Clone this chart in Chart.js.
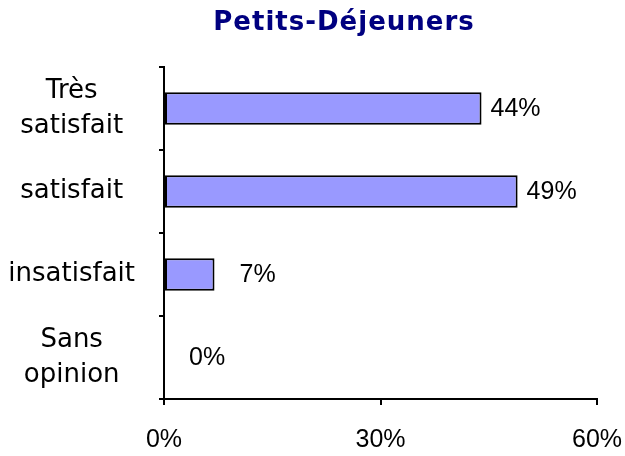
<!DOCTYPE html>
<html>
<head>
<meta charset="utf-8">
<script src="https://cdn.jsdelivr.net/npm/chart.js@4"></script>
<style>
  html, body { margin:0; padding:0; background:#fff; }
  #wrap { width:625px; height:456px; }
</style>
</head>
<body>
<div id="wrap"><canvas id="c" width="625" height="456"></canvas></div>
<script>
// Données
const titre      = 'Petits-Déjeuners';
const categories = [['Très', 'satisfait'], 'satisfait', 'insatisfait', ['Sans', 'opinion']];
const valeurs    = [44, 49, 7, 0];
const ticksX     = [0, 30, 60];

// titre dessiné à la main (centré comme dans l'original)
const titrePlugin = {
  id: 'titre',
  afterDraw(chart) {
    const ctx = chart.ctx;
    ctx.save();
    ctx.font = 'bold 26px "DejaVu Sans"';
    ctx.fillStyle = '#000080';
    ctx.letterSpacing = '1px';
    ctx.textAlign = 'center';
    ctx.textBaseline = 'alphabetic';
    ctx.fillText(titre, 344, 30);
    ctx.restore();
  }
};

// étiquettes de valeur à droite des barres
const etiquettes = {
  id: 'etiquettes',
  afterDatasetsDraw(chart) {
    const ctx  = chart.ctx;
    const meta = chart.getDatasetMeta(0);
    ctx.save();
    ctx.font = '25px "Liberation Sans"';
    ctx.fillStyle = '#000';
    ctx.textAlign = 'left';
    ctx.textBaseline = 'middle';
    meta.data.forEach((bar, i) => {
      const v = valeurs[i];
      const dx = v < 10 ? 25 : 9;
      ctx.fillText(v + '%', bar.x + dx, bar.y + 1);
    });
    ctx.restore();
  }
};

new Chart(document.getElementById('c'), {
  type: 'bar',
  data: {
    labels: categories,
    datasets: [{
      data: valeurs,
      backgroundColor: '#9999FF',
      borderColor: '#000',
      borderWidth: 2,
      borderSkipped: false,
      barPercentage: 0.39,
      categoryPercentage: 1,
    }]
  },
  options: {
    indexAxis: 'y',
    responsive: false,
    animation: false,
    layout: { padding: { top: 67, right: 28, left: 0, bottom: 0 } },
    plugins: {
      legend: { display: false },
      title:  { display: false },
      tooltip:{ enabled: false },
    },
    scales: {
      x: {
        min: 0, max: 60,
        afterBuildTicks: s => { s.ticks = ticksX.map(v => ({ value: v })); },
        afterFit: s => { s.height = 57; s.paddingLeft = 0; s.paddingRight = 0; },
        grid: { drawOnChartArea: false, drawTicks: true, tickLength: 6, color: '#000', lineWidth: 2 },
        border: { display: true, color: '#000', width: 2 },
        ticks: {
          callback: v => v + '%',
          color: '#000',
          font: { family: 'Liberation Sans', size: 25 },
          padding: 20,
          maxRotation: 0,
        }
      },
      y: {
        afterFit: s => { s.width = 164; s.paddingTop = 0; s.paddingBottom = 0; },
        grid: { drawOnChartArea: false, drawTicks: true, tickLength: 5, color: '#000', lineWidth: 2, offset: true },
        border: { display: true, color: '#000', width: 2 },
        ticks: {
          color: '#000',
          font: { family: 'DejaVu Sans', size: 26, lineHeight: 1.35 },
          crossAlign: 'center',
          padding: 24,
        }
      }
    }
  },
  plugins: [titrePlugin, etiquettes]
});
</script>
</body>
</html>
